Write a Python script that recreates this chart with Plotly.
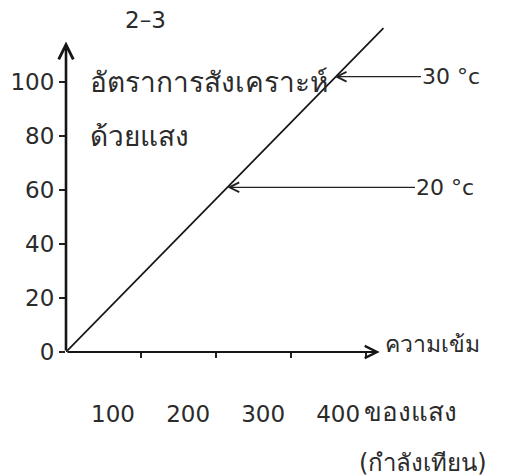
import plotly.graph_objects as go

# Data
light_intensity = [0, 423]          # x: light intensity (candle power)
photosynthesis_rate = [0, 120]      # y: photosynthesis rate
y_ticks = [0, 20, 40, 60, 80, 100]
x_ticks = [100, 200, 300, 400]
temp_labels = ["20 °c", "30 °c"]
temp_rate = [61, 102]
temp_intensity = [215, 358]
temp_label_x = [467, 475]

TXT = "#2b2b2b"
FONT = "DejaVu Sans, Noto Sans, sans-serif"
NUM = 23

fig = go.Figure()
fig.add_trace(go.Scatter(x=light_intensity, y=photosynthesis_rate, mode="lines",
                         line=dict(color="#151515", width=1.7), hoverinfo="skip",
                         showlegend=False, cliponaxis=False))

ann = []
# axes drawn as arrows
ann.append(dict(x=0, y=115, ax=0, ay=0, xref="x", yref="y", axref="x", ayref="y",
                showarrow=True, arrowhead=5, arrowsize=1.1, arrowwidth=2.6,
                arrowcolor="#151515", text=""))
ann.append(dict(x=418, y=0, ax=0, ay=0, xref="x", yref="y", axref="x", ayref="y",
                showarrow=True, arrowhead=5, arrowsize=1.1, arrowwidth=2.2,
                arrowcolor="#151515", text=""))
# temperature arrows and labels
for lab, r, xi, lx in zip(temp_labels, temp_rate, temp_intensity, temp_label_x):
    ann.append(dict(x=xi, y=r, ax=lx, ay=r, xref="x", yref="y", axref="x", ayref="y",
                    showarrow=True, arrowhead=5, arrowsize=1.6, arrowwidth=1.2,
                    arrowcolor="#222", text=""))
    ann.append(dict(x=lx, y=r, xref="x", yref="y", text=lab, showarrow=False,
                    xanchor="left", yanchor="middle", xshift=-2,
                    font=dict(size=22, color=TXT, family=FONT)))

texts = [
    ("2–3", 106, 123, "center", "y", NUM),
    ("อัตราการสังเคราะห์", 29, 100, "left", "y", 28),
    ("ด้วยแสง", 29, 80, "left", "y", 28),
    ("ความเข้ม", 422, 3, "left", "y", 23),
    ("ของแสง", 394, -0.175, "left", "paper", 26),
    ("(กำลังเทียน)", 388, -0.325, "left", "paper", 24),
]
for t, x, y, xa, yr, sz in texts:
    ann.append(dict(x=x, y=y, xref="x", yref=yr, text=t, showarrow=False,
                    xanchor=xa, yanchor="middle",
                    font=dict(size=sz, color=TXT, family=FONT)))

fig.update_layout(
    width=497, height=468,
    margin=dict(l=58, r=0, t=2, b=124),
    paper_bgcolor="white", plot_bgcolor="white",
    showlegend=False,
    annotations=ann,
    xaxis=dict(range=[0, 585], showgrid=False, zeroline=False, showline=False,
               tickvals=x_ticks, ticks="outside", ticklen=5, tickwidth=1.5,
               tickcolor="#222", ticklabelstandoff=36, ticklabelshift=-28,
               tickfont=dict(size=NUM, color=TXT, family=FONT)),
    yaxis=dict(range=[0, 126.7], showgrid=False, zeroline=False, showline=False,
               tickvals=y_ticks, ticks="outside", ticklen=6, tickwidth=1.5,
               tickcolor="#222",
               tickfont=dict(size=NUM, color=TXT, family=FONT)),
)
fig.write_html("out.html")
